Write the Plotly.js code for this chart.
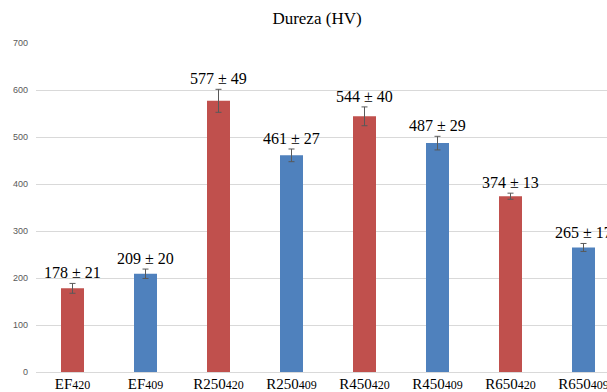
<!DOCTYPE html>
<html>
<head>
<meta charset="utf-8">
<script src="https://cdn.plot.ly/plotly-3.0.1.min.js"></script>
<style>
html,body{margin:0;padding:0;overflow:hidden;background:#fff;width:607px;height:392px;}
#chart{width:640px;height:392px;}
</style>
</head>
<body>
<div id="chart"></div>
<script>
const categories = ["EF|420","EF|409","R250|420","R250|409","R450|420","R450|409","R650|420","R650|409"];
const hardness = [178, 209, 577, 461, 544, 487, 374, 265];
const stdDev = [21, 20, 49, 27, 40, 29, 13, 17];
const errDrawn = [10.5, 10, 24.5, 13.5, 20, 14.5, 6.5, 8.5];
const barColors = ["#C0504D","#4F81BD","#C0504D","#4F81BD","#C0504D","#4F81BD","#C0504D","#4F81BD"];
const yTicks = [0,100,200,300,400,500,600,700];

const SERIF = "Liberation Serif, Times New Roman, serif";
const tickText = categories.map(c => {
  const [a, b] = c.split("|");
  return a + '<span style="font-size:12px">' + b + '</span>';
});

const trace = {
  type: "bar",
  x: categories,
  y: hardness,
  marker: {color: barColors},
  error_y: {type: "data", array: errDrawn, visible: true, color: "#595959", thickness: 1, width: 3},
  hoverinfo: "none"
};

const annotations = categories.map((c, i) => ({
  x: c, y: hardness[i] + errDrawn[i], xref: "x", yref: "y",
  text: hardness[i] + " ± " + stdDev[i],
  showarrow: false, yanchor: "bottom", xanchor: "center", yshift: 0,
  font: {family: SERIF, size: 16, color: "#000"}
}));

const layout = {
  width: 640, height: 392,
  margin: {l: 36, r: 20, t: 43, b: 20, pad: 0},
  paper_bgcolor: "#fff", plot_bgcolor: "#fff",
  bargap: 0.685,
  showlegend: false,
  font: {family: SERIF},
  title: {
    text: "Dureza (HV)",
    font: {family: SERIF, size: 17, color: "#000"},
    xref: "container", x: 317/640, xanchor: "center",
    yref: "container", y: 1 - 18/392, yanchor: "middle"
  },
  xaxis: {
    type: "category",
    tickvals: categories, ticktext: tickText,
    showgrid: false, zeroline: false, showline: true, linecolor: "#D9D9D9", linewidth: 1,
    ticks: "", ticklabelstandoff: -2,
    tickfont: {family: SERIF, size: 15, color: "#000"},
    fixedrange: true
  },
  yaxis: {
    range: [0, 700], tickvals: yTicks, ticktext: yTicks.map(String),
    showgrid: true, gridcolor: "#D9D9D9", gridwidth: 1,
    zeroline: true, zerolinecolor: "#D9D9D9", zerolinewidth: 1,
    showline: false, ticks: "", ticklabelstandoff: 7,
    tickfont: {family: "Liberation Sans, Arial, sans-serif", size: 9, color: "#595959"},
    fixedrange: true
  },
  annotations: annotations
};

Plotly.newPlot("chart", [trace], layout, {staticPlot: true, displayModeBar: false});
</script>
</body>
</html>
